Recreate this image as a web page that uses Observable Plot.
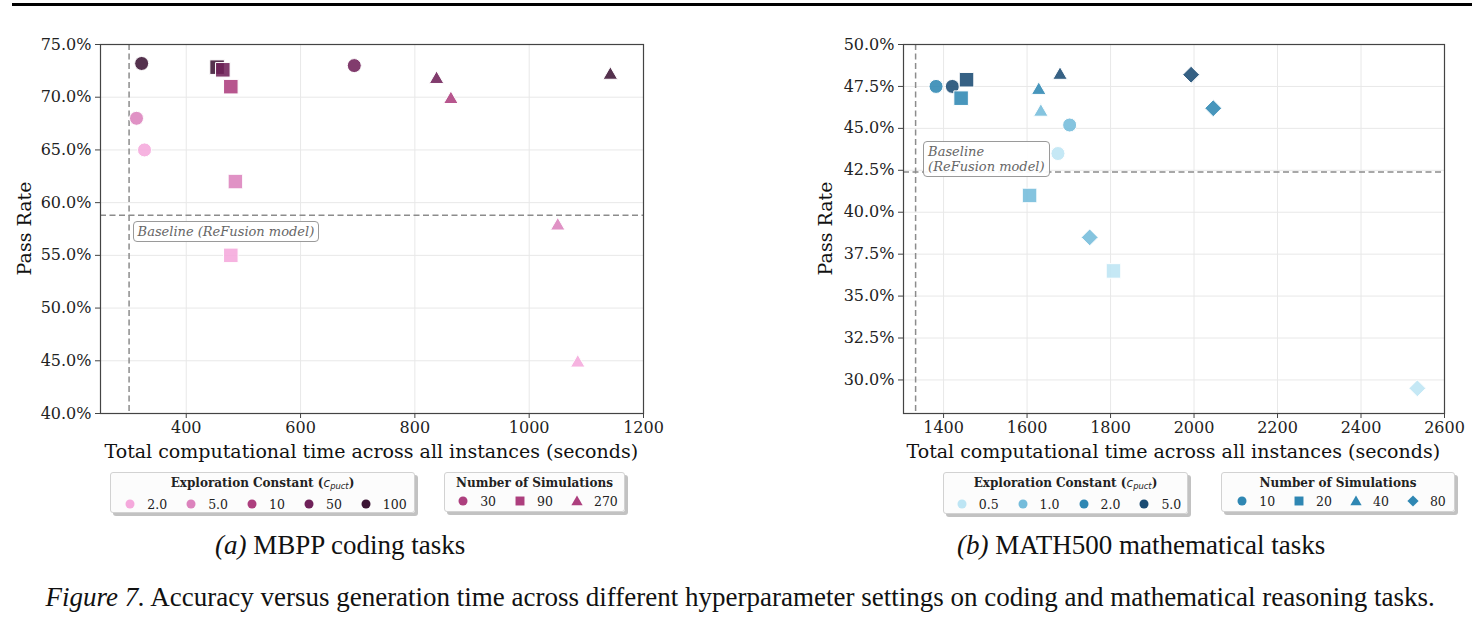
<!DOCTYPE html>
<html>
<head>
<meta charset="utf-8">
<script src="https://cdn.jsdelivr.net/npm/d3@7"></script>
<script src="https://cdn.jsdelivr.net/npm/@observablehq/plot@0.6"></script>
<style>
  body { margin: 0; background: #fff; }
  #page { position: relative; width: 1484px; height: 627px; overflow: hidden; background: #fff; font-family: "DejaVu Serif", serif; }
  .rule { position: absolute; left: 12px; top: 3px; width: 1460px; height: 3px; background: #000; }
  .chart { position: absolute; top: 0; }
  .axtitle { position: absolute; font-size: 19px; color: #111; white-space: nowrap; line-height: 1; }
  .legend { position: absolute; box-sizing: border-box; border: 1px solid #d2d2d2; border-radius: 3px;
            background: rgba(252,252,252,0.95); box-shadow: 3px 3px 0 #c2c2c2; font-size: 12.5px; color: #222; }
  .legend .ltitle { font-weight: bold; font-size: 12px; text-align: center; margin-top: 3px; line-height: 15px; white-space: nowrap; }
  .legend .row { display: flex; justify-content: center; align-items: center; height: 20px; gap: 12px; }
  .legend .item { display: flex; align-items: center; gap: 5px; white-space: nowrap; }
  .legend svg { display: block; }
  .baseline { position: absolute; box-sizing: border-box; border: 1px solid #9a9a9a; border-radius: 4px; background: rgba(255,255,255,0.92);
              font-style: italic; color: #666; font-size: 13px; padding: 2px 4px; line-height: 15px; white-space: nowrap; }
  .cap { position: absolute; font-family: "Liberation Serif", serif; color: #111; white-space: nowrap; text-align: center; line-height: 1; }
  .mathc { font-family: "DejaVu Sans", sans-serif; font-style: italic; font-weight: normal; }
  .mathc sub { font-size: 0.7em; vertical-align: -0.25em; }
</style>
</head>
<body>
<div id="page">
  <div class="rule"></div>
</div>
<script>
// ---- MBPP coding tasks ----
const mbppTime  = [322, 694, 313, 327, 454, 464, 478, 486, 478, 838, 863, 1142, 1050, 1085];
const mbppPass  = [73.2, 73.0, 68.0, 65.0, 72.85, 72.6, 71.0, 62.0, 55.0, 71.9, 70.0, 72.3, 58.0, 45.0];
const mbppCpuct = ["100", "50", "5.0", "2.0", "100", "50", "10", "5.0", "2.0", "50", "10", "100", "5.0", "2.0"];
const mbppSims  = [30, 30, 30, 30, 90, 90, 90, 90, 90, 270, 270, 270, 270, 270];
const mbppCpuctLevels = ["2.0", "5.0", "10", "50", "100"];
const mbppColors = ["#f5a9dc", "#dc83bd", "#ad3f7e", "#6f2159", "#3c1434"];
const mbppSimsLevels = [30, 90, 270];
const mbppShapes = ["circle", "square", "triangle"];
const mbppBaselineTime = 300;
const mbppBaselinePass = 58.8;
const mbppXTicks = [400, 600, 800, 1000, 1200];
const mbppYTicks = [40, 45, 50, 55, 60, 65, 70, 75];

// ---- MATH500 mathematical tasks ----
const mathTime  = [1382, 1421, 1702, 1674, 1455, 1442, 1606, 1807, 1679, 1628, 1633, 1993, 2046, 1750, 2535];
const mathPass  = [47.5, 47.5, 45.2, 43.5, 47.9, 46.8, 41.0, 36.5, 48.3, 47.4, 46.1, 48.2, 46.2, 38.5, 29.5];
const mathCpuct = ["2.0", "5.0", "1.0", "0.5", "5.0", "2.0", "1.0", "0.5", "5.0", "2.0", "1.0", "5.0", "2.0", "1.0", "0.5"];
const mathSims  = [10, 10, 10, 10, 20, 20, 20, 20, 40, 40, 40, 80, 80, 80, 80];
const mathCpuctLevels = ["0.5", "1.0", "2.0", "5.0"];
const mathColors = ["#bde5f4", "#74bcdb", "#2f87b3", "#1a4b73"];
const mathSimsLevels = [10, 20, 40, 80];
const mathShapes = ["circle", "square", "triangle", "diamond"];
const mathBaselineTime = 1333;
const mathBaselinePass = 42.4;
const mathXTicks = [1400, 1600, 1800, 2000, 2200, 2400, 2600];
const mathYTicks = [30, 32.5, 35, 37.5, 40, 42.5, 45, 47.5, 50];

// marker geometry per shape (Plot symbol, radius, vertical nudge so the triangle's box is centred)
const SHAPES = {
  circle:   {symbol: "circle",   r: 7.0, dy: 0,   d3s: d3.symbolCircle,   legendSize: 64},
  square:   {symbol: "square",   r: 8.2, dy: 0,   d3s: d3.symbolSquare,   legendSize: 80},
  triangle: {symbol: "triangle", r: 5.4, dy: 2.1, d3s: d3.symbolTriangle, legendSize: 55},
  diamond:  {symbol: "diamond2", r: 7.6, dy: 0,   d3s: d3.symbolDiamond2, legendSize: 80}
};

const page = document.getElementById("page");

function scatter(cfg) {
  const rows = cfg.time.map((t, i) => ({t, p: cfg.pass[i], c: cfg.cpuct[i], s: cfg.sims[i]}));
  const dots = cfg.simsLevels.map((s, k) => {
    const sh = SHAPES[cfg.shapes[k]];
    return Plot.dot(rows.filter(d => d.s === s), {
      x: "t", y: "p", fill: "c", symbol: sh.symbol, r: sh.r, dy: sh.dy,
      fillOpacity: 0.88, stroke: "white", strokeWidth: 1
    });
  });
  const svg = Plot.plot({
    width: cfg.width, height: 470,
    marginLeft: cfg.marginLeft, marginRight: cfg.marginRight, marginTop: 44, marginBottom: 57,
    style: {fontFamily: "DejaVu Serif", fontSize: "16px", color: "#222", background: "transparent", overflow: "visible"},
    x: {domain: cfg.xDomain},
    y: {domain: cfg.yDomain},
    color: {domain: cfg.levels, range: cfg.colors},
    marks: [
      Plot.gridX(cfg.xTicks, {stroke: "#e8e8e8", strokeOpacity: 1}),
      Plot.gridY(cfg.yTicks, {stroke: "#e8e8e8", strokeOpacity: 1}),
      Plot.ruleX([cfg.baselineTime], {stroke: "#8c8c8c", strokeWidth: 1.5, strokeDasharray: "6,3.5"}),
      Plot.ruleY([cfg.baselinePass], {stroke: "#8c8c8c", strokeWidth: 1.5, strokeDasharray: "6,3.5"}),
      ...dots,
      Plot.frame({stroke: "#444", strokeWidth: 1.2}),
      Plot.axisX(cfg.xTicks, {tickSize: 5, tickPadding: 3, label: null, tickFormat: d => String(d), stroke: "#444", fill: "#222"}),
      Plot.axisY(cfg.yTicks, {tickSize: 5, tickPadding: 4, label: null, tickFormat: d => d.toFixed(1) + "%", stroke: "#444", fill: "#222"})
    ]
  });
  svg.classList.add("chart");
  svg.style.left = cfg.left + "px";
  page.appendChild(svg);

  const sx = svg.scale("x"), sy = svg.scale("y");
  const x0 = cfg.left + cfg.marginLeft, x1 = cfg.left + cfg.width - cfg.marginRight;

  // axis titles
  const xt = document.createElement("div");
  xt.className = "axtitle";
  xt.textContent = "Total computational time across all instances (seconds)";
  page.appendChild(xt);
  xt.style.left = ((x0 + x1) / 2 - xt.offsetWidth / 2) + "px";
  xt.style.top = (442) + "px";

  const yt = document.createElement("div");
  yt.className = "axtitle";
  yt.textContent = "Pass Rate";
  page.appendChild(yt);
  const w = yt.offsetWidth, h = yt.offsetHeight;
  yt.style.left = (cfg.left + cfg.yTitleX - w / 2) + "px";
  yt.style.top = (228 - h / 2) + "px";
  yt.style.transform = "rotate(-90deg)";

  // baseline annotation
  const b = document.createElement("div");
  b.className = "baseline";
  b.innerHTML = cfg.baselineText;
  page.appendChild(b);
  b.style.left = (cfg.left + sx.apply(cfg.baselineTime) + cfg.baseDx) + "px";
  b.style.top = (sy.apply(cfg.baselinePass) + cfg.baseDy) + "px";
  return svg;
}

function legend(box) {
  const div = document.createElement("div");
  div.className = "legend";
  div.style.left = box.left + "px";
  div.style.top = box.top + "px";
  div.style.width = box.width + "px";
  div.style.height = box.height + "px";
  const t = document.createElement("div");
  t.className = "ltitle";
  t.innerHTML = box.title;
  div.appendChild(t);
  const row = document.createElement("div");
  row.className = "row";
  box.items.forEach(it => {
    const item = document.createElement("div");
    item.className = "item";
    const s = d3.create("svg").attr("width", 24).attr("height", 14);
    const sh = SHAPES[it.shape];
    s.append("path")
      .attr("transform", `translate(12,${7 + (it.shape === "triangle" ? 1 : 0)})`)
      .attr("d", d3.symbol(sh.d3s, sh.legendSize)())
      .attr("fill", it.color);
    item.appendChild(s.node());
    const lab = document.createElement("span");
    lab.textContent = it.label;
    item.appendChild(lab);
    row.appendChild(item);
  });
  div.appendChild(row);
  page.appendChild(div);
}

scatter({
  time: mbppTime, pass: mbppPass, cpuct: mbppCpuct, sims: mbppSims,
  levels: mbppCpuctLevels, colors: mbppColors, simsLevels: mbppSimsLevels, shapes: mbppShapes,
  baselineTime: mbppBaselineTime, baselinePass: mbppBaselinePass,
  xDomain: [250, 1200], yDomain: [40, 75], xTicks: mbppXTicks, yTicks: mbppYTicks,
  left: 0, width: 680, marginLeft: 100, marginRight: 37, yTitleX: 25,
  baselineText: "Baseline (ReFusion model)", baseDx: 4, baseDy: 6
});

scatter({
  time: mathTime, pass: mathPass, cpuct: mathCpuct, sims: mathSims,
  levels: mathCpuctLevels, colors: mathColors, simsLevels: mathSimsLevels, shapes: mathShapes,
  baselineTime: mathBaselineTime, baselinePass: mathBaselinePass,
  xDomain: [1304, 2600], yDomain: [28, 50], xTicks: mathXTicks, yTicks: mathYTicks,
  left: 803, width: 680, marginLeft: 100, marginRight: 39, yTitleX: 23,
  baselineText: "Baseline<br>(ReFusion model)", baseDx: 8, baseDy: -30
});

const cpuctTitle = 'Exploration Constant (<span class="mathc">c<sub>puct</sub></span>)';

legend({
  left: 110, top: 472, width: 305, height: 41, title: cpuctTitle,
  items: mbppCpuctLevels.map((l, i) => ({label: l, color: mbppColors[i], shape: "circle"}))
});
legend({
  left: 444, top: 472, width: 181, height: 40, title: "Number of Simulations",
  items: mbppSimsLevels.map((s, i) => ({label: String(s), color: mbppColors[2], shape: mbppShapes[i]}))
});
legend({
  left: 943, top: 472, width: 245, height: 42, title: cpuctTitle,
  items: mathCpuctLevels.map((l, i) => ({label: l, color: mathColors[i], shape: "circle"}))
});
legend({
  left: 1221, top: 472, width: 234, height: 40, title: "Number of Simulations",
  items: mathSimsLevels.map((s, i) => ({label: String(s), color: mathColors[2], shape: mathShapes[i]}))
});

// sub-figure captions and figure caption
function caption(html, center, top, size) {
  const d = document.createElement("div");
  d.className = "cap";
  d.style.fontSize = size + "px";
  d.innerHTML = html;
  page.appendChild(d);
  d.style.left = (center - d.offsetWidth / 2) + "px";
  d.style.top = top + "px";
}
caption("<i>(a)</i> MBPP coding tasks", 340, 532, 27);
caption("<i>(b)</i> MATH500 mathematical tasks", 1141, 532, 27);
caption("<i>Figure 7.</i> Accuracy versus generation time across different hyperparameter settings on coding and mathematical reasoning tasks.", 740, 584, 27);
</script>
</body>
</html>
